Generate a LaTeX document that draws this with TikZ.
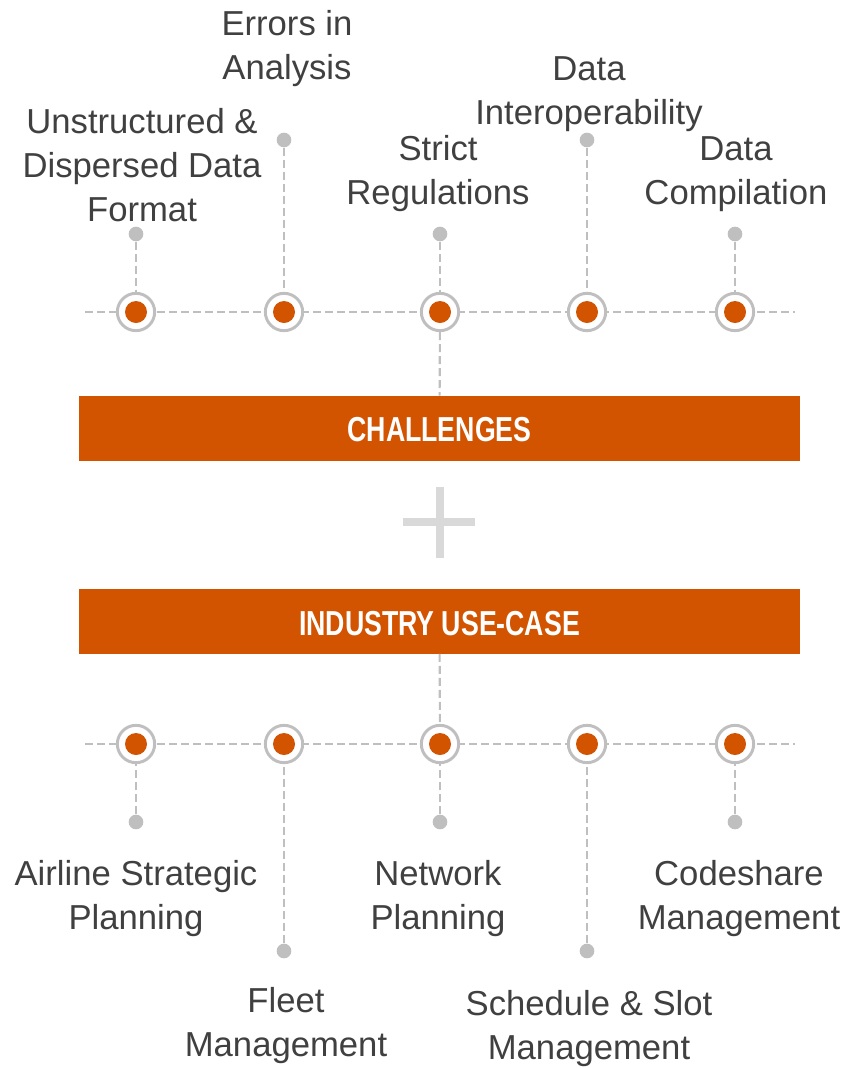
\documentclass[tikz,border=0pt]{standalone}
\usepackage{fontspec}
\setmainfont{Liberation Sans}
\newfontfamily\barfont[FakeStretch=0.77]{Liberation Sans}
\usetikzlibrary{backgrounds}
\definecolor{accent}{HTML}{D35400}
\definecolor{linegray}{HTML}{BFBFBF}
\definecolor{plusgray}{HTML}{D9D9D9}
\definecolor{txt}{HTML}{404040}
\begin{document}
\begin{tikzpicture}[x=0.75pt,y=-0.75pt,
  ring/.style={circle, draw=linegray, line width=2.2pt, fill=white, minimum size=28pt, inner sep=0pt,
    path picture={\fill[accent] (path picture bounding box.center) circle (8.25pt);}},
  dot/.style={circle, fill=linegray, minimum size=11pt, inner sep=0pt},
  conn/.style={draw=linegray, line width=1.6pt, dash pattern=on 6pt off 3pt},
  lbl/.style={font=\fontsize{26}{33}\selectfont, text=txt, align=center, inner sep=0pt},
  bar/.style={fill=accent, minimum width=540.75pt, minimum height=48.75pt, inner sep=0pt,
    text=white, font=\barfont\bfseries\fontsize{26}{30}\selectfont}]
\path[use as bounding box] (0,0) rectangle (849,1068);

% bars
\node[bar] (chal) at (439.5,428.5) {};
\node[bar] (ind) at (439.5,621) {};
\node[text=white, font=\barfont\bfseries\fontsize{26}{30}\selectfont, inner sep=0pt] (chaltxt) at (439.5,430) {CHALLENGES};
\node[text=white, font=\barfont\bfseries\fontsize{26}{30}\selectfont, inner sep=0pt] (indtxt) at (439.5,624) {INDUSTRY USE-CASE};

% plus sign
\fill[plusgray] (436,487) rectangle (444,558);
\fill[plusgray] (403,518) rectangle (475,526);

% top row
\coordinate (TL) at (85,312);
\coordinate (TR) at (795,312);
\node[ring] (c1) at (136,312) {};
\node[ring] (c2) at (284,312) {};
\node[ring] (c3) at (440,312) {};
\node[ring] (c4) at (587,312) {};
\node[ring] (c5) at (735,312) {};
\node[dot] (d1) at (136,234) {};
\node[dot] (d2) at (284,140) {};
\node[dot] (d3) at (440,234) {};
\node[dot] (d4) at (587,140) {};
\node[dot] (d5) at (735,234) {};

% bottom row
\coordinate (BL) at (85,744);
\coordinate (BR) at (795,744);
\node[ring] (e1) at (136,744) {};
\node[ring] (e2) at (284,744) {};
\node[ring] (e3) at (440,744) {};
\node[ring] (e4) at (587,744) {};
\node[ring] (e5) at (735,744) {};
\node[dot] (f1) at (136,822) {};
\node[dot] (f2) at (284,951) {};
\node[dot] (f3) at (440,822) {};
\node[dot] (f4) at (587,951) {};
\node[dot] (f5) at (735,822) {};

\begin{scope}[on background layer]
  \draw[conn] (TL) -- (TR);
  \draw[conn] (BL) -- (BR);
\end{scope}
\foreach \i in {1,...,5}{
  \draw[conn] (d\i) -- (c\i);
  \draw[conn] (f\i) -- (e\i);
}
\draw[conn] (c3) -- (chal);
\draw[conn] (ind) -- (e3);

% top labels
\node[lbl] (t1) at (142,165) {Unstructured \&\\Dispersed Data\\Format};
\node[lbl] (t2) at (287,49) {Errors in\\Analysis};
\node[lbl] (t3) at (438,174) {Strict\\Regulations};
\node[lbl] (t4) at (589,94) {Data\\Interoperability};
\node[lbl] (t5) at (736,174) {Data\\Compilation};

% bottom labels
\node[lbl] (b1) at (136,899) {Airline Strategic\\Planning};
\node[lbl] (b2) at (286,1026) {Fleet\\Management};
\node[lbl] (b3) at (438,899) {Network\\Planning};
\node[lbl] (b4) at (589,1029) {Schedule \& Slot\\Management};
\node[lbl] (b5) at (739,899) {Codeshare\\Management};
\end{tikzpicture}
\end{document}
